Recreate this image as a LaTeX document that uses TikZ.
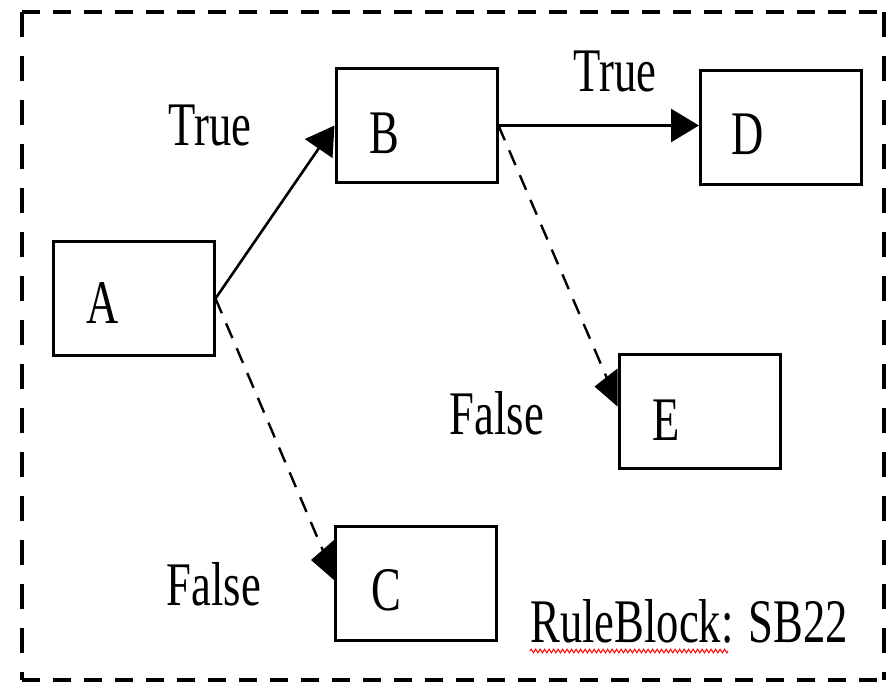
\documentclass[tikz,border=0pt]{standalone}
\usepackage{fontspec}
\usepackage{graphicx}
\setmainfont{Liberation Serif}
\usetikzlibrary{arrows.meta,calc,decorations.pathmorphing}

% narrow, tall lettering used throughout
\newcommand\narrowtext[1]{\scalebox{0.72}[1]{#1}}

\tikzset{
  blockbox/.style={draw, line width=3pt, minimum width=161pt, minimum height=114pt, inner sep=0pt},
  lbl/.style={anchor=base, inner sep=0pt, font=\fontsize{62}{70}\selectfont},
  truearrow/.style={line width=2.6pt, -{Triangle[length=28pt,width=33pt]}},
  falsearrow/.style={line width=2.4pt, dash pattern=on 16pt off 11pt},
  falsetip/.style={fill=black, draw=none},
  frameh/.style={line width=4.5pt, dash pattern=on 18pt off 13pt},
  framev/.style={line width=4.5pt, dash pattern=on 25pt off 19pt},
}

\begin{document}
\begin{tikzpicture}[x=1pt, y=-1pt]
  \useasboundingbox (0,0) rectangle (888,683);

  % outer dashed frame of the rule block
  \coordinate (fa) at (22,12);
  \coordinate (fb) at (884,12);
  \coordinate (fc) at (884,680);
  \coordinate (fd) at (22,680);
  \draw[frameh] (fa) -- (fb);
  \draw[frameh] (fd) -- (fc);
  \draw[framev] (fa) -- (fd);
  \draw[framev] (fb) -- (fc);

  % decision boxes
  \node[blockbox] (A) at (133.5,298.5) {};
  \node[blockbox] (B) at (416.5,125.5) {};
  \node[blockbox] (C) at (416,583.5) {};
  \node[blockbox] (D) at (781,127.5) {};
  \node[blockbox] (E) at (699.5,411) {};

  % box letters
  \node[lbl] (labA) at (103,323) {\narrowtext{A}};
  \node[lbl] (labB) at (384,153) {\narrowtext{B}};
  \node[lbl] (labC) at (386,610) {\narrowtext{C}};
  \node[lbl] (labD) at (748,154) {\narrowtext{D}};
  \node[lbl] (labE) at (666,440) {\narrowtext{E}};

  % branch labels
  \node[lbl] (t1) at (210,145) {\narrowtext{True}};
  \node[lbl] (t2) at (615,91) {\narrowtext{True}};
  \node[lbl] (f1) at (497,434) {\narrowtext{False}};
  \node[lbl] (f2) at (214,605) {\narrowtext{False}};
  \node[lbl] (rb) at (689,642) {\narrowtext{RuleBlock: SB22}};

  % red wavy underline below the block name
  \coordinate (wl) at (530,651);
  \coordinate (wr) at (728,651);
  \draw[red, line width=1pt, decorate,
        decoration={zigzag, segment length=4.5pt, amplitude=1.8pt}] (wl) -- (wr);

  % true branches
  \draw[truearrow] (A.east) -- (B.west);
  \draw[truearrow] (B.east) -- (B.east -| D.west);

  % false branches with left-pointing tips on the target boxes
  \coordinate (cEnd) at ($(C.north west)+(-10,28)$);
  \coordinate (eEnd) at ($(E.north west)+(-10,27)$);
  \draw[falsearrow] (A.east) -- (cEnd);
  \draw[falsearrow] (B.east) -- (eEnd);
  \fill[falsetip] ($(C.north west)+(0,15)$) -- ($(C.north west)+(-23,35)$)
                  -- ($(C.north west)+(0,55)$) -- cycle;
  \fill[falsetip] ($(E.north west)+(0,16)$) -- ($(E.north west)+(-23,34)$)
                  -- ($(E.north west)+(0,54)$) -- cycle;
\end{tikzpicture}
\end{document}
